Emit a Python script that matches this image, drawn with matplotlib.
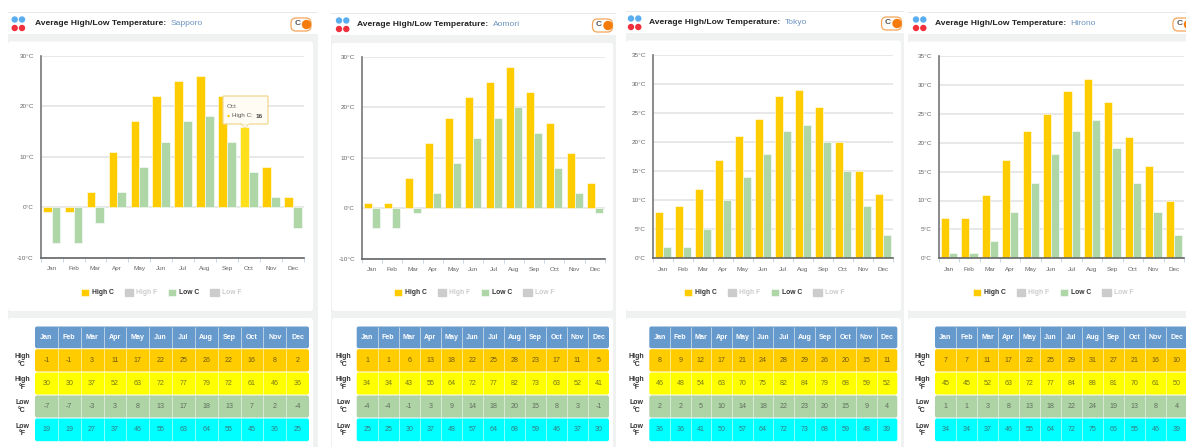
import numpy as np
import matplotlib
matplotlib.use("Agg")
import matplotlib.pyplot as plt
from matplotlib.patches import FancyBboxPatch, Rectangle, Circle, Patch, Polygon

plt.rcParams['font.family'] = ['Liberation Sans', 'DejaVu Sans']

months = ['Jan', 'Feb', 'Mar', 'Apr', 'May', 'Jun', 'Jul', 'Aug', 'Sep', 'Oct', 'Nov', 'Dec']
cities = ['Sapporo', 'Aomori', 'Tokyo', 'Hirono']

sapporo_high_c = [-1, -1, 3, 11, 17, 22, 25, 26, 22, 16, 8, 2]
sapporo_high_f = [30, 30, 37, 52, 63, 72, 77, 79, 72, 61, 46, 36]
sapporo_low_c = [-7, -7, -3, 3, 8, 13, 17, 18, 13, 7, 2, -4]
sapporo_low_f = [19, 19, 27, 37, 46, 55, 63, 64, 55, 45, 36, 25]

aomori_high_c = [1, 1, 6, 13, 18, 22, 25, 28, 23, 17, 11, 5]
aomori_high_f = [34, 34, 43, 55, 64, 72, 77, 82, 73, 63, 52, 41]
aomori_low_c = [-4, -4, -1, 3, 9, 14, 18, 20, 15, 8, 3, -1]
aomori_low_f = [25, 25, 30, 37, 48, 57, 64, 68, 59, 46, 37, 30]

tokyo_high_c = [8, 9, 12, 17, 21, 24, 28, 29, 26, 20, 15, 11]
tokyo_high_f = [46, 48, 54, 63, 70, 75, 82, 84, 79, 68, 59, 52]
tokyo_low_c = [2, 2, 5, 10, 14, 18, 22, 23, 20, 15, 9, 4]
tokyo_low_f = [36, 36, 41, 50, 57, 64, 72, 73, 68, 59, 48, 39]

hirono_high_c = [7, 7, 11, 17, 22, 25, 29, 31, 27, 21, 16, 10]
hirono_high_f = [45, 45, 52, 63, 72, 77, 84, 88, 81, 70, 61, 50]
hirono_low_c = [1, 1, 3, 8, 13, 18, 22, 24, 19, 13, 8, 4]
hirono_low_f = [34, 34, 37, 46, 55, 64, 72, 75, 66, 55, 46, 39]

high_c = [sapporo_high_c, aomori_high_c, tokyo_high_c, hirono_high_c]
high_f = [sapporo_high_f, aomori_high_f, tokyo_high_f, hirono_high_f]
low_c = [sapporo_low_c, aomori_low_c, tokyo_low_c, hirono_low_c]
low_f = [sapporo_low_f, aomori_low_f, tokyo_low_f, hirono_low_f]
y_ranges = [(-10, 30, 10), (-10, 30, 10), (0, 35, 5), (0, 35, 5)]

# layout in pixels of the screenshot
W, H = 1186, 447
panel_x = [(8, 318), (331, 616), (626, 904), (908, 1200)]
card_x = [(8, 313), (332, 613), (626, 901), (908, 1200)]
header_y = [(13, 34), (14, 35), (12, 33), (13, 34)]
card_top = [41.5, 43, 40.5, 41.5]
axes_x = [(40.7, 303.7), (362, 605), (652.7, 893), (938.7, 1184)]
axes_y = [(55.7, 258), (57, 258.7), (55, 258.3), (56, 258.3)]
table_x = [(35, 309), (356.7, 609), (649.3, 897.3), (935, 1187)]
table_y = [326, 348.7, 372, 395, 418, 441.7]
title_x = [35, 357, 649, 935]
icon_x = [14.7, 339, 631, 916]
legend_cx = [161, 474, 764, 1053]
toggle_x = [291, 592.5, 881.5, 1173]

GRAY = '#f0f2f2'
HIGH = '#ffcc00'
LOW = '#aed6a7'
row_colors = ['#ffcc00', '#ffff00', '#aed3a4', '#00ffff']
row_names = ['High\n°C', 'High\n°F', 'Low\n°C', 'Low\n°F']

fig = plt.figure(figsize=(W / 100, H / 100), dpi=100, facecolor='white')
bg = fig.add_axes([0, 0, 1, 1])
bg.set_xlim(0, W)
bg.set_ylim(H, 0)
bg.axis('off')


def card(x0, x1, y0, y1):
    bg.add_patch(FancyBboxPatch((x0 + 3, y0 + 3), x1 - x0 - 6, y1 - y0 - 6,
                                boxstyle='round,pad=3', fc='white', ec='none'))


def draw_header(i):
    x0, x1 = panel_x[i]
    top, bottom = header_y[i]
    bg.add_patch(Rectangle((x0, top - 1.5), x1 - x0, 1.5, fc='#e8e8e8', ec='none'))
    for k, c in enumerate(['#5aaef0', '#5aaef0', '#f0303c', '#f0303c']):
        bg.add_patch(Circle((icon_x[i] + 7.3 * (k % 2), top + 6.5 + 8.5 * (k // 2)), 3.2, fc=c, ec='none'))
    ty = (top + bottom) / 2
    bg.text(title_x[i], ty, 'Average High/Low Temperature:', fontsize=6.1, fontweight='bold',
            color='#222222', va='center', ha='left')
    bg.text(title_x[i] + 135.5, ty, cities[i], fontsize=6.1, color='#6b93bf', va='center', ha='left')
    # C/F switch
    tx = toggle_x[i]
    bg.add_patch(FancyBboxPatch((tx + 5, ty - 0.5), 10, 3, boxstyle='round,pad=5',
                                fc='white', ec='#f5a55a', lw=0.9))
    bg.add_patch(Circle((tx + 15.5, ty + 1), 4.7, fc='#f57c0a', ec='none'))
    bg.text(tx + 6.5, ty, 'C', fontsize=6, fontweight='bold', color='#555555', va='center', ha='center')


def draw_chart(i):
    x0, x1 = axes_x[i]
    y0, y1 = axes_y[i]
    ax = fig.add_axes([x0 / W, 1 - y1 / H, (x1 - x0) / W, (y1 - y0) / H])
    ax.patch.set_alpha(0)
    xs = np.arange(12)
    ymin, ymax, step = y_ranges[i]
    ax.set_xlim(-0.5, 11.5)
    ax.set_ylim(ymin, ymax)
    yticks = np.arange(ymin, ymax + 1, step)
    ax.set_yticks(yticks)
    ax.set_yticklabels([f'{v}°C' for v in yticks], fontsize=4.6, color='#666666')
    ax.set_xticks(np.arange(-0.5, 12, 1))
    ax.set_xticklabels([])
    ax.set_xticks(xs, labels=months, minor=True, fontsize=4.6, color='#666666')
    ax.tick_params(axis='x', which='major', length=3, width=0.6, color='#c0d0e0')
    ax.tick_params(axis='x', which='minor', length=0, pad=6)
    ax.tick_params(axis='y', length=0, pad=5)
    ax.grid(axis='y', color='#e6e6e6', lw=1.3)
    ax.set_axisbelow(True)
    for s in ['top', 'right']:
        ax.spines[s].set_visible(False)
    ax.spines['left'].set_color('#777777')
    ax.spines['left'].set_linewidth(1.2)
    ax.spines['bottom'].set_color('#666666')
    ax.spines['bottom'].set_linewidth(1.2)
    hb = ax.bar(xs - 0.2, high_c[i], 0.4, color=HIGH, edgecolor='white', lw=0.4, label='High C')
    lb = ax.bar(xs + 0.2, low_c[i], 0.4, color=LOW, edgecolor='white', lw=0.4, label='Low C')
    handles = [hb, Patch(color='#cccccc', label='High F'), lb, Patch(color='#cccccc', label='Low F')]
    leg = ax.legend(handles=handles, labels=['High C', 'High F', 'Low C', 'Low F'], ncol=4, loc='center',
                    bbox_to_anchor=(legend_cx[i] / W, 1 - 292.5 / H), bbox_transform=fig.transFigure,
                    frameon=False, fontsize=4.9, handlelength=1.25, handleheight=1.25,
                    handletextpad=0.45, columnspacing=1.55, borderpad=0)
    for txt, col in zip(leg.get_texts(), ['#333333', '#cccccc', '#333333', '#cccccc']):
        txt.set_color(col)
        txt.set_fontweight('bold')
    if i == 0:
        # hovered bar and tooltip on Sapporo
        hb[9].set_facecolor('#ffe01a')
        ax_tip = fig.add_axes([0, 0, 1, 1], zorder=10)
        ax_tip.set_xlim(0, W)
        ax_tip.set_ylim(H, 0)
        ax_tip.axis('off')
        ax_tip.add_patch(FancyBboxPatch((224, 97), 43, 26, boxstyle='round,pad=1', fc='#fffdf3',
                                        ec='#f0d890', lw=0.9, zorder=1))
        ax_tip.add_patch(Polygon([(241, 124), (249, 124), (245, 128)], fc='#fffdf3', ec='#f0d890',
                                 lw=0.6, zorder=2))
        ax_tip.add_patch(Rectangle((241.5, 122.5), 7, 1.6, fc='#fffdf3', ec='none', zorder=3))
        ax_tip.text(226.7, 106, 'Oct', fontsize=4.6, color='#666666', va='center', zorder=4)
        ax_tip.add_patch(Circle((228.5, 116), 1.2, fc=HIGH, ec='none', zorder=4))
        ax_tip.text(232.3, 116, 'High C:', fontsize=4.5, color='#555555', va='center', zorder=4)
        ax_tip.text(255.5, 116, '16', fontsize=4.6, fontweight='bold', color='#444444', va='center', zorder=4)


def draw_table(i):
    x0, x1 = table_x[i]
    edges = np.linspace(x0, x1, 13)
    rows = [months, high_c[i], high_f[i], low_c[i], low_f[i]]
    colors = ['#6699cc'] + row_colors
    text_col = ['white', '#6e5a10', '#77771a', '#5f6f5f', '#2f7f80']
    for r, (vals, c) in enumerate(zip(rows, colors)):
        ya, yb = table_y[r] + 0.5, table_y[r + 1] - 0.5
        bg.add_patch(FancyBboxPatch((x0 + 2, ya + 2), x1 - x0 - 4, yb - ya - 4,
                                    boxstyle='round,pad=2', fc=c, ec='none'))
        bg.vlines(edges[1:-1], ya, yb, color='white', lw=0.5, alpha=0.75)
        for k, v in enumerate(vals):
            bg.text((edges[k] + edges[k + 1]) / 2, (ya + yb) / 2, str(v), fontsize=5.1,
                    fontweight='bold' if r == 0 else 'normal', color=text_col[r],
                    ha='center', va='center')
        if r > 0:
            bg.text(x0 - 13, (ya + yb) / 2, row_names[r - 1], fontsize=5, fontweight='bold',
                    color='#333333', ha='center', va='center', linespacing=1.1)


for i in range(4):
    x0, x1 = panel_x[i]
    bg.add_patch(Rectangle((x0, header_y[i][1]), x1 - x0, H - header_y[i][1], fc=GRAY, ec='none'))
    card(card_x[i][0], card_x[i][1], card_top[i], 311)
    card(card_x[i][0], card_x[i][1], 318, 460)
    draw_header(i)
    draw_chart(i)
    draw_table(i)

fig.savefig('out.png', dpi=100)
